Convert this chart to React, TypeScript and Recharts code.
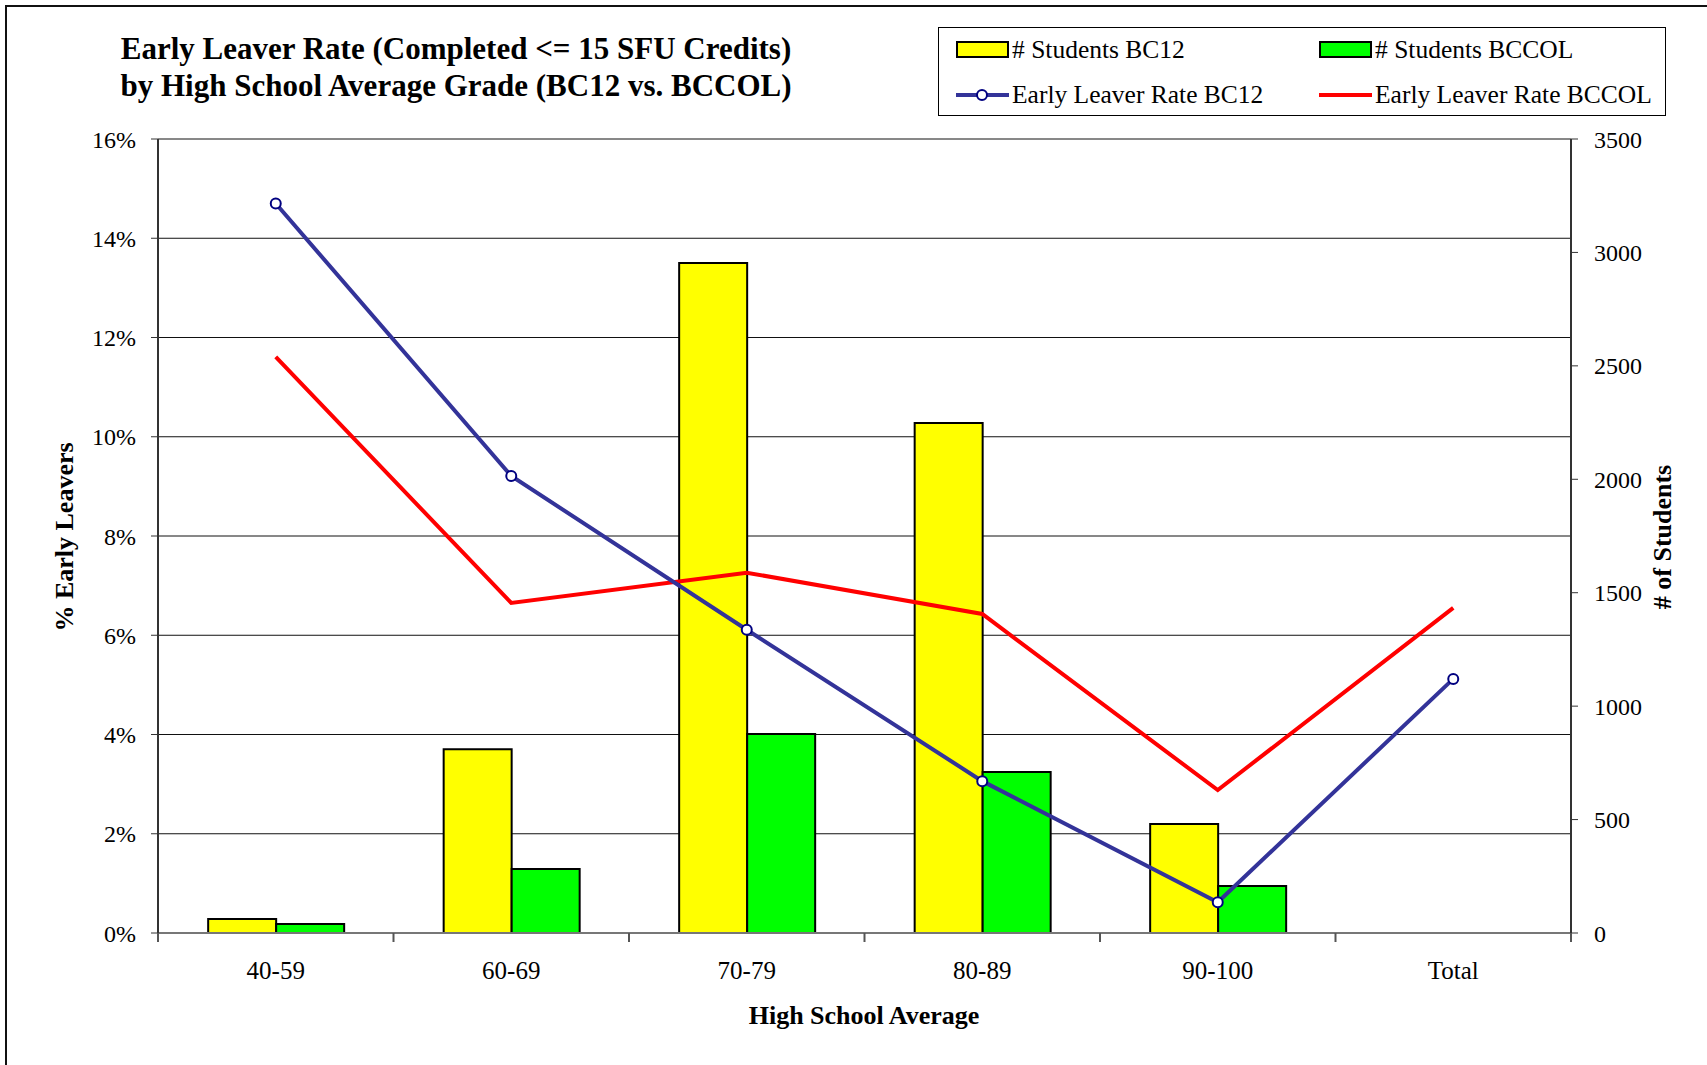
import React from 'react';
import { ComposedChart, Bar, Line, XAxis, YAxis, CartesianGrid } from 'recharts';

const categories = ['40-59', '60-69', '70-79', '80-89', '90-100', 'Total'];
const studentsBC12 = [62, 810, 2953, 2248, 480, null];
const studentsBCCOL = [40, 282, 877, 710, 207, null];
const rateBC12 = [14.7, 9.21, 6.11, 3.06, 0.62, 5.12];
const rateBCCOL = [11.61, 6.65, 7.26, 6.43, 2.88, 6.55];
const leftTicks = [0, 2, 4, 6, 8, 10, 12, 14, 16];
const rightTicks = [0, 500, 1000, 1500, 2000, 2500, 3000, 3500];

const titleLines = [
  'Early Leaver Rate (Completed <= 15 SFU Credits)',
  'by High School Average Grade (BC12 vs. BCCOL)',
];

const legendItems = [
  { label: '# Students BC12', type: 'bar', color: '#FFFF00' },
  { label: '# Students BCCOL', type: 'bar', color: '#00FF00' },
  { label: 'Early Leaver Rate BC12', type: 'lineDot', color: '#333399' },
  { label: 'Early Leaver Rate BCCOL', type: 'line', color: '#FF0000' },
];

const data = categories.map((c, i) => ({
  cat: c,
  bc12: studentsBC12[i],
  bccol: studentsBCCOL[i],
  rBC12: rateBC12[i],
  rBCCOL: rateBCCOL[i],
}));

const FONT = '"Liberation Serif", "Times New Roman", serif';
const W = 1707;
const H = 1065;
const PLOT_L = 158;
const PLOT_R = 1571;
const PLOT_T = 139;
const PLOT_B = 933;
const AXW = 100;
const XAXH = 60;

const XTick = (props: any) => {
  const { x, y, payload, index, visibleTicksCount } = props;
  const half = payload && payload.offset ? payload.offset : (PLOT_R - PLOT_L) / categories.length / 2;
  const last = index === (visibleTicksCount ?? categories.length) - 1;
  return (
    <g>
      <line x1={x - half} x2={x - half} y1={y} y2={y + 9} stroke="#555" strokeWidth={2} />
      {last && <line x1={x + half} x2={x + half} y1={y} y2={y + 9} stroke="#555" strokeWidth={2} />}
      <text x={x} y={y + 46} textAnchor="middle" fontFamily={FONT} fontSize={25} fill="#000">
        {payload.value}
      </text>
    </g>
  );
};

const LineDot = (props: any) => {
  const { cx, cy } = props;
  if (cx == null || cy == null) return null;
  return <circle cx={cx} cy={cy} r={5} fill="#fff" stroke="#000080" strokeWidth={2} />;
};

export default function App() {
  return (
    <div
      style={{
        position: 'absolute',
        left: 0,
        top: 0,
        width: W,
        height: H,
        background: '#fff',
        overflow: 'hidden',
        fontFamily: FONT,
      }}
    >
      <div
        style={{
          position: 'absolute',
          left: 5,
          top: 5,
          width: W + 100,
          height: H + 100,
          borderLeft: '2px solid #111',
          borderTop: '2px solid #111',
        }}
      />
      <div
        style={{
          position: 'absolute',
          left: 6,
          top: 30,
          width: 900,
          textAlign: 'center',
          fontWeight: 'bold',
          fontSize: 31,
          lineHeight: '37px',
          color: '#000',
          whiteSpace: 'nowrap',
        }}
      >
        {titleLines.map((t) => (
          <div key={t}>{t}</div>
        ))}
      </div>

      <div
        style={{
          position: 'absolute',
          left: 938,
          top: 27,
          width: 728,
          height: 89,
          border: '1px solid #000',
          boxSizing: 'border-box',
          background: '#fff',
        }}
      >
        {legendItems.map((it, i) => {
          const col = i % 2;
          const row = Math.floor(i / 2);
          const sx = col === 0 ? 17 : 380;
          const cy = row === 0 ? 22 : 67;
          return (
            <div key={it.label} style={{ position: 'absolute', left: sx, top: cy - 15, height: 30, width: 340 }}>
              <svg width={54} height={30} style={{ position: 'absolute', left: 0, top: 0 }}>
                {it.type === 'bar' && (
                  <rect x={1} y={7} width={51} height={15} fill={it.color} stroke="#000" strokeWidth={2} />
                )}
                {it.type !== 'bar' && (
                  <line x1={0} x2={53} y1={15} y2={15} stroke={it.color} strokeWidth={4} />
                )}
                {it.type === 'lineDot' && (
                  <circle cx={26} cy={15} r={5} fill="#fff" stroke="#000080" strokeWidth={2} />
                )}
              </svg>
              <div
                style={{
                  position: 'absolute',
                  left: 56,
                  top: 0,
                  lineHeight: '30px',
                  fontSize: 25.5,
                  color: '#000',
                  whiteSpace: 'nowrap',
                }}
              >
                {it.label}
              </div>
            </div>
          );
        })}
      </div>

      <div style={{ position: 'absolute', left: 0, top: 0 }}>
        <ComposedChart
          width={W}
          height={H}
          data={data}
          margin={{ top: PLOT_T, left: PLOT_L - AXW, right: W - PLOT_R - AXW, bottom: H - PLOT_B - XAXH }}
          barCategoryGap="21.3%"
          barGap={0}
        >
          <CartesianGrid yAxisId="left" horizontal={true} vertical={false} stroke="#111" strokeWidth={1} />
          <XAxis
            dataKey="cat"
            height={XAXH}
            axisLine={{ stroke: '#777', strokeWidth: 2 }}
            tickLine={false}
            tickSize={0}
            tickMargin={0}
            interval={0}
            tick={<XTick />}
          />
          <YAxis
            yAxisId="left"
            orientation="left"
            width={AXW}
            domain={[0, 16]}
            ticks={leftTicks}
            interval={0}
            tickFormatter={(v: number) => `${v}%`}
            axisLine={{ stroke: '#333', strokeWidth: 2 }}
            tickLine={{ stroke: '#333' }}
            tickSize={7}
            tickMargin={15}
            tick={{ fontFamily: FONT, fontSize: 24, fill: '#000' }}
          />
          <YAxis
            yAxisId="right"
            orientation="right"
            width={AXW}
            domain={[0, 3500]}
            ticks={rightTicks}
            interval={0}
            axisLine={{ stroke: '#333', strokeWidth: 2 }}
            tickLine={{ stroke: '#333' }}
            tickSize={7}
            tickMargin={16}
            tick={{ fontFamily: FONT, fontSize: 24, fill: '#000', textAnchor: 'start' }}
          />
          <Bar yAxisId="right" dataKey="bc12" fill="#FFFF00" stroke="#000" strokeWidth={2} isAnimationActive={false} />
          <Bar yAxisId="right" dataKey="bccol" fill="#00FF00" stroke="#000" strokeWidth={2} isAnimationActive={false} />
          <Line
            yAxisId="left"
            dataKey="rBCCOL"
            stroke="#FF0000"
            strokeWidth={4}
            dot={false}
            activeDot={false}
            isAnimationActive={false}
          />
          <Line
            yAxisId="left"
            dataKey="rBC12"
            stroke="#333399"
            strokeWidth={4}
            dot={<LineDot />}
            activeDot={false}
            isAnimationActive={false}
          />
        </ComposedChart>
      </div>

      <div
        style={{
          position: 'absolute',
          left: 65,
          top: 537,
          transform: 'translate(-50%, -50%) rotate(-90deg)',
          fontWeight: 'bold',
          fontSize: 26,
          whiteSpace: 'nowrap',
          color: '#000',
        }}
      >
        % Early Leavers
      </div>
      <div
        style={{
          position: 'absolute',
          left: 1663,
          top: 537,
          transform: 'translate(-50%, -50%) rotate(-90deg)',
          fontWeight: 'bold',
          fontSize: 26,
          whiteSpace: 'nowrap',
          color: '#000',
        }}
      >
        # of Students
      </div>
      <div
        style={{
          position: 'absolute',
          left: 864,
          top: 1016,
          transform: 'translate(-50%, -50%)',
          fontWeight: 'bold',
          fontSize: 26,
          whiteSpace: 'nowrap',
          color: '#000',
        }}
      >
        High School Average
      </div>
    </div>
  );
}
